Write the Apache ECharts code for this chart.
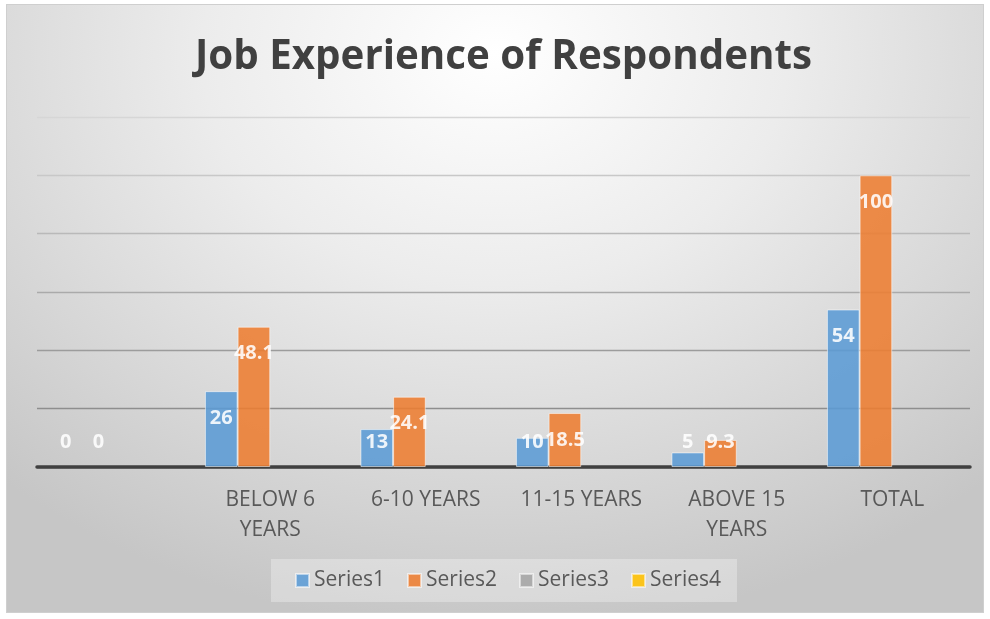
<!DOCTYPE html>
<html>
<head>
<meta charset="utf-8">
<script src="https://cdn.jsdelivr.net/npm/echarts@6/dist/echarts.min.js"></script>
<style>
  html, body { margin: 0; padding: 0; background: #ffffff; }
  #bg {
    position: absolute; left: 6px; top: 4px; width: 976px; height: 607px;
    border: 1px solid #cfcfcf;
    background: radial-gradient(ellipse 75% 95% at 50% 8%, #ffffff 0%, #ececec 40%, #d6d6d6 75%, #c6c6c6 100%);
  }
  #chart { position: absolute; left: 0; top: 0; width: 990px; height: 619px; }
</style>
</head>
<body>
<div id="bg"></div>
<div id="chart"></div>
<script>
const titleText = 'Job Experience of Respondents';
const categories = ['', 'BELOW 6\nYEARS', '6-10 YEARS', '11-15 YEARS', 'ABOVE 15\nYEARS', 'TOTAL'];
const seriesNames = ['Series1', 'Series2', 'Series3', 'Series4'];
const series1 = [0, 26, 13, 10, 5, 54];
const series2 = [0, 48.1, 24.1, 18.5, 9.3, 100];
const series3 = [null, null, null, null, null, null];
const series4 = [null, null, null, null, null, null];
const colors = ['#5B9BD5', '#ED7D31', '#A5A5A5', '#FFC000'];
const yMin = 0, yMax = 120, yInterval = 20;
// gridline shades, from the bottom (0) to the top (120)
const gridColors = ['#8a8a8a', '#8e8e8e', '#9c9c9c', '#aaaaaa', '#b9b9b9', '#c8c8c8', '#d6d6d6'];

const FONT = '"Open Sans", "Liberation Sans", sans-serif';

function labelLayout(p) {
  const r = p.rect;
  const bottom = r.y + r.height;
  const cy = Math.min(r.y + 27, bottom - 25);
  return { y: cy, verticalAlign: 'middle', align: 'center', x: r.x + r.width / 2 };
}

function barSeries(name, data, color) {
  return {
    name: name,
    type: 'bar',
    data: data.map(v => (v === 0 ? { value: 0, itemStyle: { borderWidth: 0 } } : v)),
    barGap: '0%',
    barCategoryGap: '16%',
    itemStyle: { color: color, opacity: 0.88, borderColor: 'rgba(255,255,255,0.6)', borderWidth: 1 },
    label: {
      show: true,
      position: 'insideTop',
      color: '#ffffff',
      fontFamily: FONT,
      fontWeight: 'bold',
      fontSize: 20
    },
    labelLayout: labelLayout,
    emphasis: { disabled: true }
  };
}

const chart = echarts.init(document.getElementById('chart'), null, { renderer: 'canvas' });
chart.setOption({
  animation: false,
  backgroundColor: 'transparent',
  color: colors,
  graphic: [{
    type: 'text',
    x: 195,
    y: 58,
    style: {
      text: titleText,
      fill: '#404040',
      font: 'bold 40.3px ' + FONT,
      textVerticalAlign: 'middle',
      verticalAlign: 'middle'
    }
  }],
  grid: { left: 37, right: 20, top: 117, bottom: 152, containLabel: false },
  xAxis: {
    type: 'category',
    data: categories,
    axisLine: { show: true, lineStyle: { color: '#404040', width: 3.5 } },
    axisTick: { show: false },
    axisLabel: {
      interval: 0,
      color: '#595959',
      fontFamily: FONT,
      fontSize: 21,
      lineHeight: 30,
      margin: 18
    }
  },
  yAxis: {
    type: 'value',
    min: yMin, max: yMax, interval: yInterval,
    axisLabel: { show: false },
    axisLine: { show: false },
    axisTick: { show: false },
    splitLine: { show: true, lineStyle: { color: gridColors, width: 1.3 } }
  },
  legend: {
    data: seriesNames,
    left: 271,
    top: 559,
    padding: [11, 16, 11, 24],
    backgroundColor: 'rgba(255,255,255,0.3)',
    icon: 'rect',
    itemWidth: 13,
    itemHeight: 13,
    itemGap: 22,
    textStyle: { color: '#595959', fontFamily: FONT, fontSize: 21, padding: [0, 0, 0, 0] }
  },
  series: [
    barSeries(seriesNames[0], series1, colors[0]),
    barSeries(seriesNames[1], series2, colors[1]),
    barSeries(seriesNames[2], series3, colors[2]),
    barSeries(seriesNames[3], series4, colors[3])
  ]
});
</script>
</body>
</html>
